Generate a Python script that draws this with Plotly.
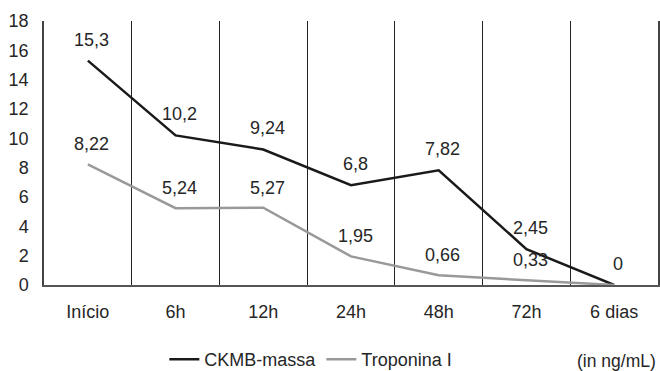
import plotly.graph_objects as go

categories = ["Início", "6h", "12h", "24h", "48h", "72h", "6 dias"]
ckmb = [15.3, 10.2, 9.24, 6.8, 7.82, 2.45, 0]
tropo = [8.22, 5.24, 5.27, 1.95, 0.66, 0.33, 0]
ckmb_labels = ["15,3", "10,2", "9,24", "6,8", "7,82", "2,45", "0"]
tropo_labels = ["8,22", "5,24", "5,27", "1,95", "0,66", "0,33", ""]

FONT = "Liberation Sans, Arial, sans-serif"
TXT = "#262626"
FS = 18

fig = go.Figure()
fig.add_trace(go.Scatter(x=categories, y=ckmb, mode="lines", name="CKMB-massa",
                         line=dict(color="#1a1a1a", width=2.5)))
fig.add_trace(go.Scatter(x=categories, y=tropo, mode="lines", name="Troponina I",
                         line=dict(color="#999999", width=2.5)))

annotations = []
for c, v, t in zip(categories, ckmb, ckmb_labels):
    if t:
        annotations.append(dict(x=c, y=v, text=t, showarrow=False, yshift=21, xshift=4,
                                font=dict(size=FS, color=TXT, family=FONT)))
for c, v, t in zip(categories, tropo, tropo_labels):
    if t:
        annotations.append(dict(x=c, y=v, text=t, showarrow=False, yshift=20, xshift=4,
                                font=dict(size=FS, color=TXT, family=FONT)))
annotations.append(dict(xref="paper", yref="paper", x=1.0, y=-0.287, xanchor="right",
                        yanchor="middle", text="(in ng/mL)", showarrow=False,
                        font=dict(size=17.5, color=TXT, family=FONT)))

fig.update_layout(
    width=660, height=371,
    margin=dict(l=44, r=2, t=21, b=86, autoexpand=False),
    paper_bgcolor="white", plot_bgcolor="white",
    font=dict(family=FONT, size=FS, color=TXT),
    showlegend=True,
    legend=dict(orientation="h", x=0.196, xanchor="left", y=-0.282, yanchor="middle",
                font=dict(size=FS, color=TXT, family=FONT), itemwidth=30),
    annotations=annotations,
    xaxis=dict(type="category", range=[-0.5, 6.5], tickson="boundaries",
               showgrid=True, gridcolor="#222222", gridwidth=1,
               showline=True, linecolor="#555555", linewidth=1.5,
               ticks="", ticklabelstandoff=10, zeroline=False,
               tickfont=dict(size=FS, color=TXT, family=FONT)),
    yaxis=dict(range=[0, 18], dtick=2, tick0=0, showgrid=False, zeroline=False,
               showline=True, mirror=True, linecolor="#444444", linewidth=1.5,
               ticks="", ticklabelstandoff=10,
               tickfont=dict(size=FS, color=TXT, family=FONT)),
)

fig.write_html("out.html", config={"displayModeBar": False},
               post_script="document.body.style.margin='0';")
